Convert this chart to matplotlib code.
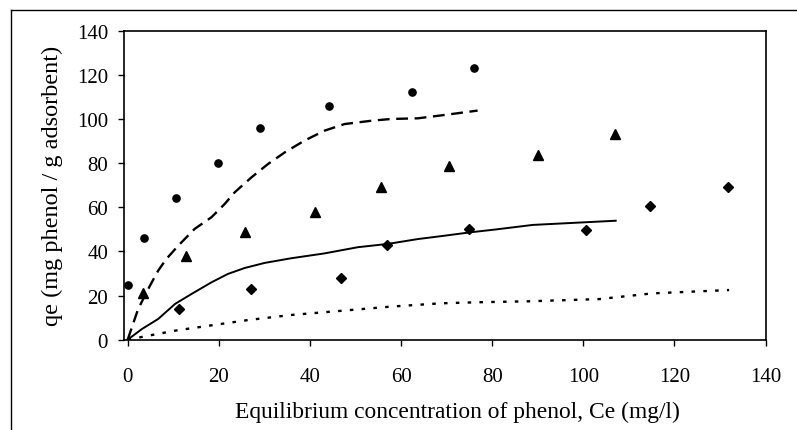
import matplotlib
matplotlib.use("Agg")
import matplotlib.pyplot as plt
from matplotlib.lines import Line2D

plt.rcParams['font.family'] = ['Liberation Serif', 'DejaVu Serif']

# Observed data
circ_x = [0, 3.5, 10.7, 19.8, 29.1, 44.1, 62.4, 76.1]
circ_y = [25, 46, 64, 80, 96, 106, 112, 123]
tri_x = [3.4, 12.8, 25.7, 41.1, 55.7, 70.5, 90.0, 106.9]
tri_y = [21, 38, 49, 58, 69, 78.5, 83.5, 93]
dia_x = [11.2, 27.0, 46.8, 57.0, 74.8, 100.6, 114.7, 131.7]
dia_y = [14, 23, 28, 43, 50, 49.5, 60.5, 69]

# Model curves
dash_x = [0, 2.3, 4.9, 6.7, 8.5, 11.1, 14.7, 18.4, 21.3, 23.5, 27.2, 30.8, 34.5,
          38.8, 43.2, 47.6, 53.5, 57.8, 63.7, 69.5, 76.8]
dash_y = [0, 13.9, 24.5, 31.3, 36.6, 42.6, 50.2, 55.5, 61.5, 66.8, 73.6, 79.6, 84.9,
          90.2, 94.7, 97.7, 99.2, 100, 100.3, 101.8, 103.8]
solid_x = [0, 3.1, 6.7, 10.4, 14.0, 18.4, 22.0, 25.7, 30.1, 35.9, 43.2, 50.5, 57.1,
           63.7, 69.5, 75.0, 81.0, 88.9, 107.1]
solid_y = [0, 4.8, 9.4, 16.2, 20.7, 26.0, 29.8, 32.5, 34.8, 36.9, 39.1, 41.9, 43.4,
           45.6, 47.1, 48.6, 50.0, 52.0, 53.9]
dot_x = [0, 4.5, 10.4, 17.7, 26.4, 35.9, 46.9, 57.8, 68.8, 77.6, 88.0, 103.5, 115.2, 132]
dot_y = [0, 1.8, 4.1, 6.3, 8.9, 11.2, 13.1, 15.0, 16.5, 17.0, 17.4, 18.4, 21.0, 22.5]

x_ticks = [0, 20, 40, 60, 80, 100, 120, 140]
y_ticks = [0, 20, 40, 60, 80, 100, 120, 140]

fig = plt.figure(figsize=(7.97, 4.31), dpi=100)
ax = fig.add_axes([0.1556, 0.2095, 0.805, 0.717])

ax.plot(dash_x, dash_y, color='black', linestyle=(0, (5, 2.8)), linewidth=1.7)
ax.plot(solid_x, solid_y, color='black', linestyle='-', linewidth=1.4)
ax.plot(dot_x, dot_y, color='black', linestyle=(0, (1.5, 3.5)), linewidth=1.7)

ax.plot(circ_x, circ_y, 'o', color='black', markersize=5.2, linestyle='none')
ax.plot(tri_x, tri_y, '^', color='black', markersize=7, linestyle='none')
ax.plot(dia_x, dia_y, 'D', color='black', markersize=5.2, linestyle='none')

ax.set_xlim(-0.8, 140)
ax.set_ylim(0, 140)
ax.set_xticks(x_ticks)
ax.set_yticks(y_ticks)
ax.tick_params(axis='both', direction='out', length=4.5, width=1, labelsize=15, colors='black')
ax.tick_params(axis='x', pad=15)
ax.tick_params(axis='y', pad=7)
for s in ax.spines.values():
    s.set_linewidth(1.2)
    s.set_color('black')

ax.set_xlabel('Equilibrium concentration of phenol, Ce (mg/l)', fontsize=16.9)
ax.xaxis.set_label_coords(0.52, -0.197)
ax.set_ylabel('qe (mg phenol / g adsorbent)', fontsize=17.5, labelpad=10)

# outer frame (top and left edges visible)
fig.add_artist(Line2D([11/797, 1.0], [1 - 11/431, 1 - 11/431], transform=fig.transFigure, color='black', linewidth=1))
fig.add_artist(Line2D([11/797, 11/797], [0, 1 - 11/431], transform=fig.transFigure, color='black', linewidth=1))

fig.savefig('out.png', dpi=100)
